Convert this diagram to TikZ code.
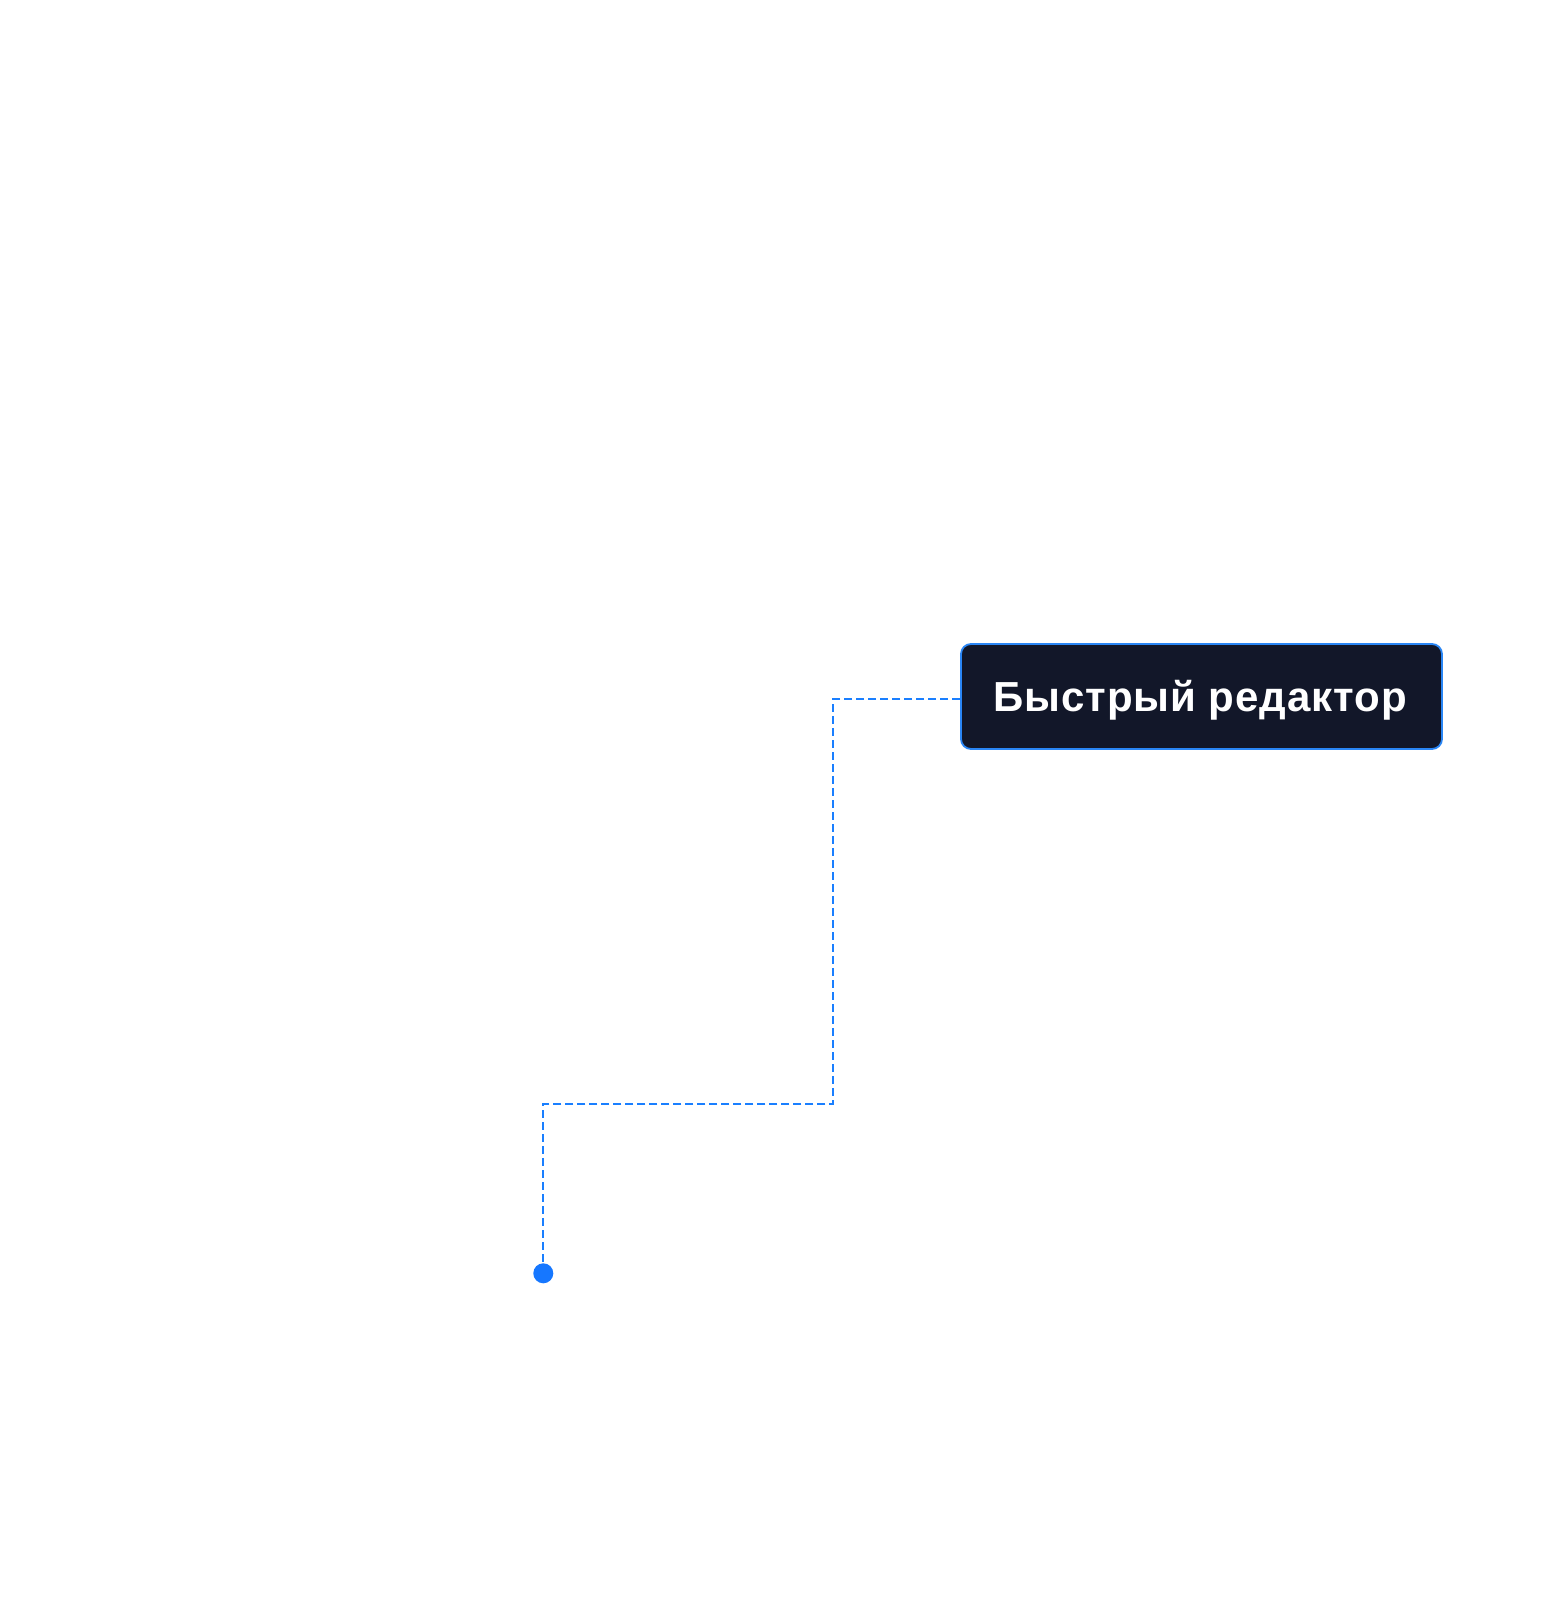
\documentclass[tikz,border=0pt]{standalone}
\usepackage{fontspec}
\setmainfont{Liberation Sans}
\newfontfamily\labelfont{Liberation Sans Bold}[LetterSpace=2.2]
\definecolor{boxfill}{HTML}{121729}
\definecolor{boxedge}{HTML}{2A86F5}
\definecolor{linkblue}{HTML}{1A7FFF}
\definecolor{dotblue}{HTML}{1677FF}
\begin{document}
\begin{tikzpicture}[x=1pt,y=-1pt,
  labelbox/.style={draw=boxedge, line width=1.8pt, fill=boxfill, rounded corners=10pt,
    minimum width=481pt, minimum height=105pt, inner sep=0pt},
  labeltext/.style={anchor=base, inner sep=0pt, text=white,
    font=\labelfont\fontsize{42}{50}\selectfont},
  enddot/.style={circle, fill=dotblue, minimum size=20pt, inner sep=0pt},
  link/.style={draw=linkblue, line width=2pt, dash pattern=on 8pt off 4pt}]
\useasboundingbox[fill=white] (0,0) rectangle (1560,1609);
\node[labelbox] (box) at (1201.5,696.5) {};
\node[labeltext] (boxtext) at (1200,711) {Быстрый редактор};
\node[enddot] (dot) at (543.3,1273.3) {};
\coordinate (c1) at (833.3,699);
\coordinate (c2) at (833.3,1104.3);
\coordinate (c3) at (543.3,1104.3);
\path[link] (box.west |- c1) -- (c1) -- (c2) -- (c3) -- (dot.north);
\end{tikzpicture}
\end{document}
